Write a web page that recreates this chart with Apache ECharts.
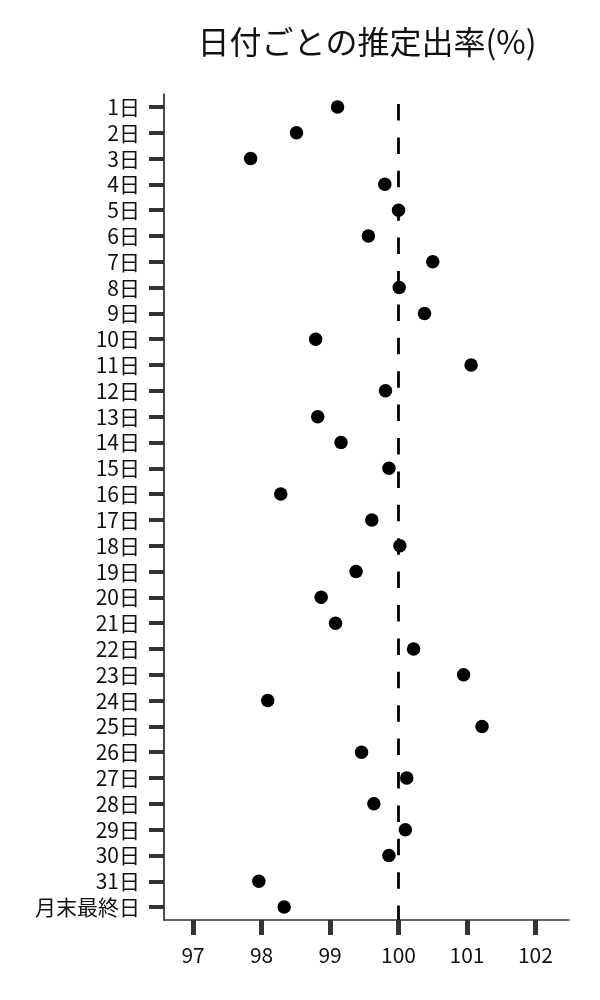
<!DOCTYPE html>
<html>
<head>
<meta charset="utf-8">
<script src="https://cdn.jsdelivr.net/npm/echarts@6/dist/echarts.min.js"></script>
<style>
html,body{margin:0;padding:0;background:#fff;}
#chart{width:600px;height:1000px;}
</style>
</head>
<body>
<div id="chart"></div>
<script>
const categories = ['1日','2日','3日','4日','5日','6日','7日','8日','9日','10日','11日','12日','13日','14日','15日','16日','17日','18日','19日','20日','21日','22日','23日','24日','25日','26日','27日','28日','29日','30日','31日','月末最終日'];
const rates = [99.11,98.51,97.84,99.80,100.00,99.56,100.50,100.01,100.38,98.79,101.06,99.81,98.82,99.16,99.86,98.28,99.61,100.02,99.38,98.87,99.08,100.22,100.95,98.09,101.22,99.46,100.12,99.64,100.10,99.86,97.96,98.33];
const xTicks = [97,98,99,100,101,102];
const refValue = 100;
const titleText = '日付ごとの推定出率(%)';

const font = '"Noto Sans CJK JP", "Noto Sans", sans-serif';
const chart = echarts.init(document.getElementById('chart'), null, {renderer:'canvas'});
chart.setOption({
  animation:false,
  backgroundColor:'#fff',
  title:{
    text:titleText,
    left:362, top:21, textAlign:'center',
    textStyle:{fontFamily:font,fontSize:32,fontWeight:'normal',color:'#111'}
  },
  grid:{left:164,right:31,top:94,bottom:80,containLabel:false},
  xAxis:{
    type:'value',
    min:96.575,max:102.49,
    axisLine:{show:true,lineStyle:{color:'#333',width:1.5}},
    axisTick:{show:true,length:15,lineStyle:{color:'#333',width:5},customValues:xTicks},
    axisLabel:{margin:25,fontFamily:font,fontSize:21,color:'#111',customValues:xTicks},
    splitLine:{show:false}
  },
  yAxis:{
    type:'category',
    data:categories,
    inverse:true,
    boundaryGap:true,
    axisLine:{show:true,lineStyle:{color:'#111',width:1.5}},
    axisTick:{show:true,alignWithLabel:true,interval:0,length:15,lineStyle:{color:'#333',width:4}},
    axisLabel:{interval:0,hideOverlap:false,margin:24,fontFamily:font,fontSize:21,color:'#111'},
    splitLine:{show:false}
  },
  series:[{
    type:'scatter',
    data:rates.map((v,i)=>[v,categories[i]]),
    symbol:'circle',
    symbolSize:13.5,
    itemStyle:{color:'#000',opacity:1},
    emphasis:{disabled:true},
    markLine:{
      silent:true,
      symbol:['none','none'],
      label:{show:false},
      lineStyle:{color:'#000',width:2.8,type:[16.5,16.9],dashOffset:23.4,opacity:1},
      data:[{xAxis:refValue}]
    },
    z:3
  }]
});
</script>
</body>
</html>
